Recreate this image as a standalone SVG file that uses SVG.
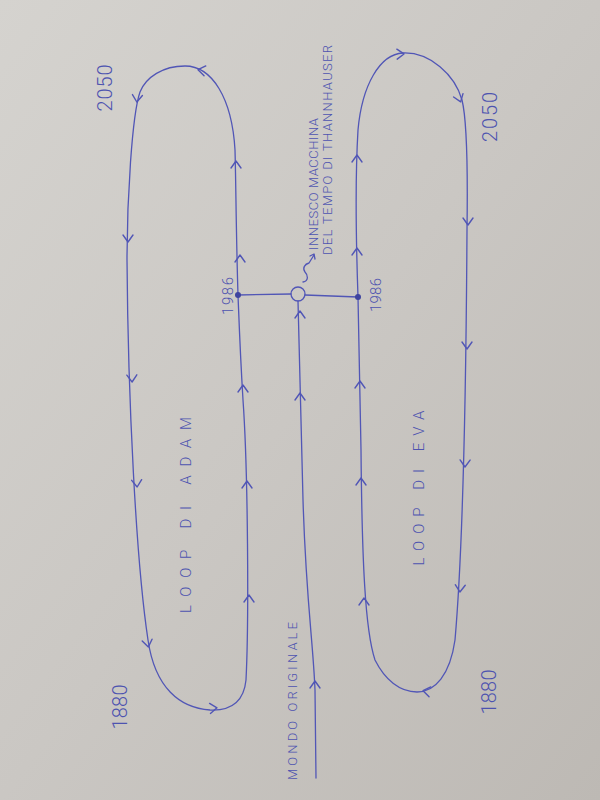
<svg xmlns="http://www.w3.org/2000/svg" width="600" height="800" viewBox="0 0 600 800">
<defs>
<linearGradient id="paper" x1="0" y1="0" x2="1" y2="1">
<stop offset="0" stop-color="#d5d3cf"/>
<stop offset="0.5" stop-color="#cac7c3"/>
<stop offset="1" stop-color="#bdb9b4"/>
</linearGradient>
<path id="chev" d="M-5,5 L0,-2 L5,5"/>
</defs>
<style>
.ink{fill:none;stroke:#5156b6;stroke-width:1.3;stroke-linecap:round;stroke-linejoin:round}
.head use{fill:none;stroke:#5156b6;stroke-width:1.4;stroke-linecap:round;stroke-linejoin:round}
.dot{fill:#3f44a0}
text{font-family:Roboto,"Liberation Sans","DejaVu Sans",sans-serif;font-weight:300;fill:#4d53b0;text-anchor:middle}
.yr{font-size:20px}
.yr2{font-size:15px}
.lbl{font-size:15px}
.note{font-size:13px}
</style>
<rect width="600" height="800" fill="url(#paper)"/>

<g id="connectors">
<path class="ink" d="M238,295 L291,294"/>
<path class="ink" d="M305,295 L358,297"/>
<path class="ink" d="M316,778 L315,690 C313,640 306,600 303,500 C301,420 299,350 298,301"/>
<path class="ink" d="M303,282 C309,281 308,275 305,272 C302,268 305,264 309,263 L314,255"/>
<path class="ink" d="M310,256 L314,254 L315,259"/>
</g>

<g id="loop-adam">
<path class="ink" d="M238,295 C236,230 236,185 235,150 C232,98 212,66 185,66 C163,66 146,77 140,92 C132,115 127,200 127,260 C128,400 136,560 148,640 C155,688 180,708 210,710 C233,711 244,700 246,680 C249,620 248,470 243,400 C240,350 239,320 238,295 Z"/>
<g class="head">
<use href="#chev" transform="translate(200,70) rotate(-80)"/>
<use href="#chev" transform="translate(137,100) rotate(185)"/>
<use href="#chev" transform="translate(128,240) rotate(180)"/>
<use href="#chev" transform="translate(132,380) rotate(178)"/>
<use href="#chev" transform="translate(137,485) rotate(176)"/>
<use href="#chev" transform="translate(148,645) rotate(170)"/>
<use href="#chev" transform="translate(215,708) rotate(85)"/>
<use href="#chev" transform="translate(236,163)"/>
<use href="#chev" transform="translate(240,257)"/>
<use href="#chev" transform="translate(243,387)"/>
<use href="#chev" transform="translate(247,483)"/>
<use href="#chev" transform="translate(249,597)"/>
</g>
<circle class="dot" cx="238" cy="295" r="3"/>
<text class="yr2" transform="translate(228,296) rotate(-90)" dy="0.35em" textLength="38">1986</text>
<text class="yr" transform="translate(105,88) rotate(-90)" dy="0.35em" textLength="47">2050</text>
<text class="yr" transform="translate(120,707) rotate(-90)" dy="0.35em" textLength="45">1880</text>
<text class="lbl" transform="translate(186,515) rotate(-90)" dy="0.35em" textLength="196">LOOP DI ADAM</text>
</g>

<g id="loop-eva">
<path class="ink" d="M358,297 C356,240 355,180 358,130 C362,85 380,54 403,53 C430,52 455,75 462,100 C467,120 468,160 467,230 C466,400 462,560 455,640 C450,675 435,692 417,692 C400,692 385,680 375,660 C365,630 362,560 361,450 C360,380 359,330 358,297 Z"/>
<g class="head">
<use href="#chev" transform="translate(402,54) rotate(88)"/>
<use href="#chev" transform="translate(460,100) rotate(160)"/>
<use href="#chev" transform="translate(468,223) rotate(180)"/>
<use href="#chev" transform="translate(467,347) rotate(180)"/>
<use href="#chev" transform="translate(465,465) rotate(181)"/>
<use href="#chev" transform="translate(460,590) rotate(183)"/>
<use href="#chev" transform="translate(425,691) rotate(-80)"/>
<use href="#chev" transform="translate(357,157)"/>
<use href="#chev" transform="translate(357,250)"/>
<use href="#chev" transform="translate(360,383)"/>
<use href="#chev" transform="translate(361,480)"/>
<use href="#chev" transform="translate(364,600)"/>
</g>
<circle class="dot" cx="358" cy="297" r="3"/>
<text class="yr2" transform="translate(376,295) rotate(-90)" dy="0.35em" textLength="34">1986</text>
<text class="yr" transform="translate(490,117) rotate(-90)" dy="0.35em" textLength="50">2050</text>
<text class="yr" transform="translate(489,692) rotate(-90)" dy="0.35em" textLength="45">1880</text>
<text class="lbl" transform="translate(419,488) rotate(-90)" dy="0.35em" textLength="155">LOOP DI EVA</text>
</g>

<g id="mondo-originale">
<g class="head">
<use href="#chev" transform="translate(315,683)"/>
<use href="#chev" transform="translate(300,395)"/>
<use href="#chev" transform="translate(300,313)"/>
</g>
<text class="note" transform="translate(292,701) rotate(-90)" dy="0.35em" textLength="158">MONDO ORIGINALE</text>
</g>

<g id="trigger">
<circle class="ink" cx="298" cy="294" r="7"/>
<text class="note" transform="translate(313,184) rotate(-90)" dy="0.35em" textLength="132">INNESCO MACCHINA</text>
<text class="note" transform="translate(327,150) rotate(-90)" dy="0.35em" textLength="210">DEL TEMPO DI THANNHAUSER</text>
</g>
</svg>
